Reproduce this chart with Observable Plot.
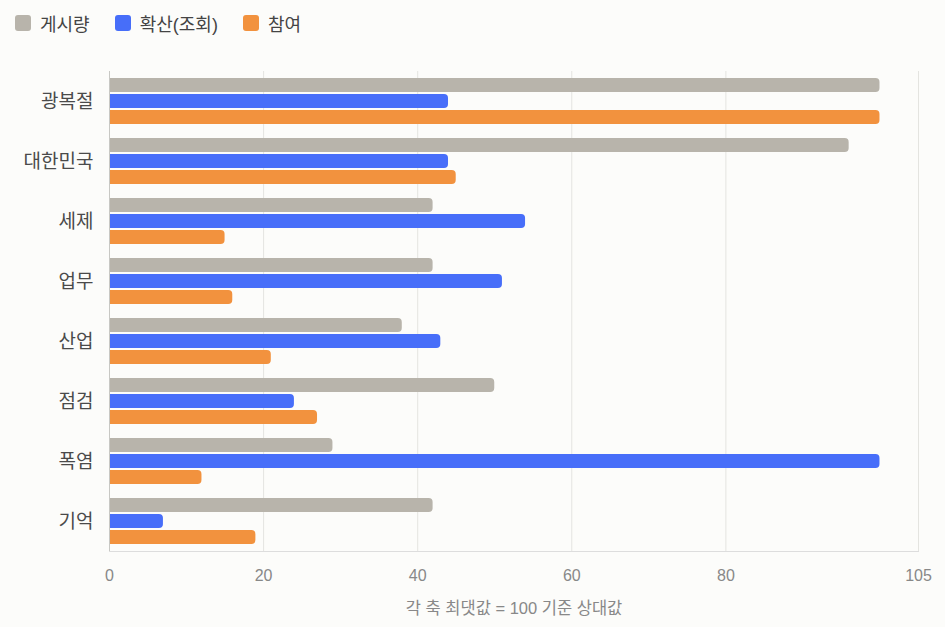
<!DOCTYPE html>
<html><head><meta charset="utf-8">
<script src="https://cdn.jsdelivr.net/npm/d3@7"></script>
<script src="https://cdn.jsdelivr.net/npm/@observablehq/plot@0.6"></script>
<style>
html,body{margin:0;padding:0;background:#fcfcfa;font-family:"Liberation Sans","Noto Sans CJK KR",sans-serif;}
#legend{height:46px;display:flex;align-items:center;padding-left:15px;gap:25px;font-size:18px;color:#444;box-sizing:border-box;}
.item{display:flex;align-items:center;gap:9px}
.sw{width:16px;height:16px;border-radius:3px;display:inline-block}
</style></head>
<body>
<div id="legend"></div>
<div id="chart"></div>
<script>
const categories = ["광복절","대한민국","세제","업무","산업","점검","폭염","기억"];
const seriesNames = ["게시량","확산(조회)","참여"];
const seriesColors = ["#b8b4ab","#476ef9","#f2923e"];
const posts = [100, 96, 42, 42, 38, 50, 29, 42];
const spread = [44, 44, 54, 51, 43, 24, 100, 7];
const engage = [100, 45, 15, 16, 21, 27, 12, 19];
const xTicks = [0, 20, 40, 60, 80, 105];
const xLabel = "각 축 최댓값 = 100 기준 상대값";

const data = [];
categories.forEach((c, i) => {
  data.push({cat: c, series: seriesNames[0], value: posts[i]});
  data.push({cat: c, series: seriesNames[1], value: spread[i]});
  data.push({cat: c, series: seriesNames[2], value: engage[i]});
});

const legend = document.getElementById("legend");
seriesNames.forEach((s, i) => {
  const it = document.createElement("div"); it.className = "item";
  const sw = document.createElement("span"); sw.className = "sw"; sw.style.background = seriesColors[i];
  const t = document.createElement("span"); t.textContent = s;
  it.appendChild(sw); it.appendChild(t); legend.appendChild(it);
});

const chart = Plot.plot({
  width: 945,
  height: 581,
  marginTop: 24,
  marginBottom: 76,
  marginLeft: 109,
  marginRight: 27,
  style: {background: "#fcfcfa", fontFamily: "'Liberation Sans','Noto Sans CJK KR',sans-serif"},
  x: {domain: [0, 105], ticks: xTicks},
  y: {domain: seriesNames, paddingInner: 0.125, paddingOuter: 0.4375, axis: null},
  fy: {domain: categories, padding: 0},
  color: {domain: seriesNames, range: seriesColors},
  marks: [
    Plot.gridX(xTicks, {stroke: "#e4e4e0", strokeOpacity: 1}),
    Plot.frame({anchor: "bottom", facet: "super", stroke: "#dddddd"}),
    Plot.barX(data, {fy: "cat", y: "series", x: "value", fill: "series", rx2: 4}),
    Plot.ruleX([0], {stroke: "#c8c8c4"}),
    Plot.axisFy({anchor: "left", tickSize: 0, tickPadding: 16, fontSize: 19, color: "#4a4a4a", label: null}),
    Plot.axisX(xTicks, {tickSize: 0, tickPadding: 18, fontSize: 16, color: "#888", label: null}),
    Plot.axisX({tickSize: 0, ticks: [], label: xLabel, labelAnchor: "center", labelArrow: "none", labelOffset: 62, fontSize: 16.5, color: "#888"})
  ]
});
document.getElementById("chart").appendChild(chart);
</script>
</body></html>
